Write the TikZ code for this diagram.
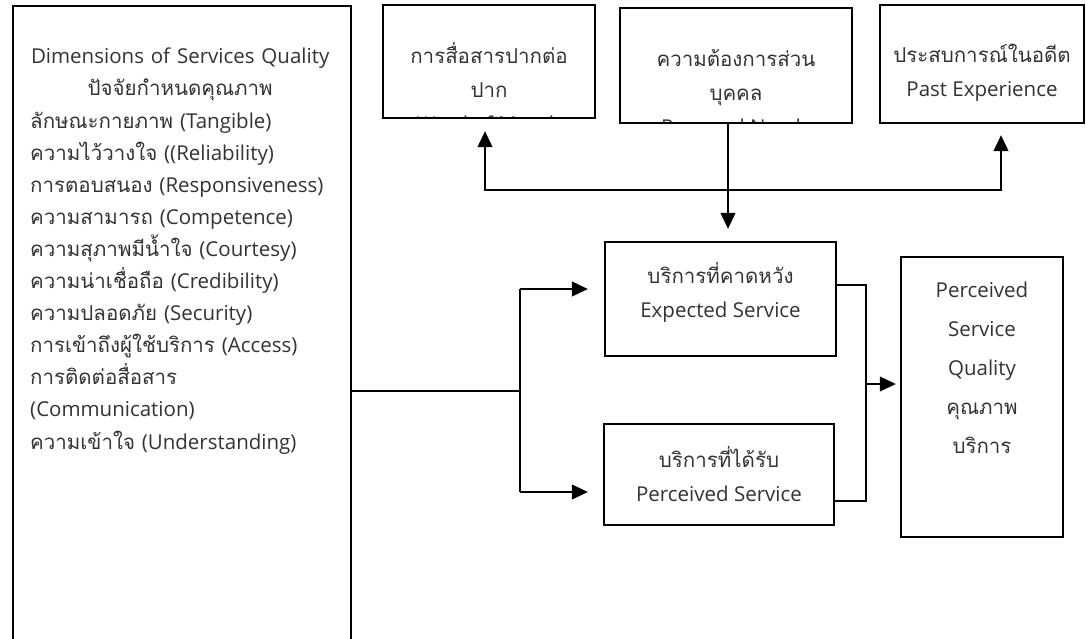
\documentclass[tikz,border=0pt]{standalone}
\usepackage{fontspec}
\setmainfont{Open Sans}
\newfontfamily\thaifont[Script=Thai]{Loma}
\newcommand{\thai}[1]{{\thaifont #1}}
\usetikzlibrary{arrows.meta}

\begin{document}
\begin{tikzpicture}[x=1pt, y=-1pt,
  box/.style={draw, line width=2.4pt, inner sep=0pt},
  txt/.style={align=center, inner sep=0pt, font=\fontsize{20.5}{34}\selectfont, text=black!80},
  link/.style={line width=1.2pt},
  arr/.style={link, -{Triangle[length=16pt, width=15pt]}}]
  \clip (0,0) rectangle (1086,638);

  % Left box (runs past the bottom of the page)
  \node[box, anchor=north west, minimum width=338pt, minimum height=660pt] (dims) at (12,5) {};
  \node[txt, anchor=north west, align=left, text width=312pt, font=\fontsize{20.5}{32.1}\selectfont] (dimstext) at (30,48)
    {\makebox[300pt]{Dimensions of Services Quality}\\
     \makebox[300pt]{\thai{ปัจจัยกำหนดคุณภาพ}}\\
     \thai{ลักษณะกายภาพ} (Tangible)\\
     \thai{ความไว้วางใจ} ((Reliability)\\
     \thai{การตอบสนอง} (Responsiveness)\\
     \thai{ความสามารถ} (Competence)\\
     \thai{ความสุภาพมีน้ำใจ} (Courtesy)\\
     \thai{ความน่าเชื่อถือ} (Credibility)\\
     \thai{ความปลอดภัย} (Security)\\
     \thai{การเข้าถึงผู้ใช้บริการ} (Access)\\
     \thai{การติดต่อสื่อสาร}\\
     (Communication)\\
     \thai{ความเข้าใจ} (Understanding)};

  % Top boxes (text cut off by the box)
  \node[box, minimum width=212pt, minimum height=113pt,
    path picture={\node[txt] (womtext) at ([yshift=-26pt]path picture bounding box.center)
      {\thai{การสื่อสารปากต่อ}\\\thai{ปาก}\\Word of Mouth};}] (wom) at (489,61.5) {};
  \node[box, minimum width=232pt, minimum height=115pt,
    path picture={\node[txt] (needstext) at ([yshift=-26.5pt]path picture bounding box.center)
      {\thai{ความต้องการส่วน}\\\thai{บุคคล}\\Personal Needs};}] (needs) at (736,65.5) {};
  \node[box, minimum width=204pt, minimum height=118pt] (past) at (982,64) {};
  \node[txt] (pasttext) at (982,73) {\thai{ประสบการณ์ในอดีต}\\Past Experience};

  % Middle boxes
  \node[box, minimum width=231pt, minimum height=114pt] (expected) at (720.5,299) {};
  \node[txt] (expectedtext) at (720.5,292) {\thai{บริการที่คาดหวัง}\\Expected Service};
  \node[box, minimum width=230pt, minimum height=101pt] (perceived) at (719,474.5) {};
  \node[txt] (perceivedtext) at (719,474) {\thai{บริการที่ได้รับ}\\Perceived Service};

  % Right box
  \node[box, minimum width=162pt, minimum height=280pt] (psq) at (982,397) {};
  \node[txt, font=\fontsize{20.5}{39}\selectfont] (psqtext) at (982,368)
    {Perceived\\Service\\Quality\\\thai{คุณภาพ}\\\thai{บริการ}};

  % Links from the top boxes
  \coordinate (busL) at (485,190);
  \coordinate (busR) at (1001,190);
  \coordinate (drop) at (728,190);
  \draw[link, {Triangle[length=16pt, width=15pt]}-{Triangle[length=16pt, width=15pt]},
    shorten <=12pt, shorten >=11pt] (busL |- wom.south) -- (busL) -- (busR) -- (busR |- past.south);
  \draw[arr, shorten >=12pt] (drop |- needs.south) -- (drop |- expected.north);

  % Fork from the left box
  \coordinate (fork) at (520,391);
  \coordinate (forkTop) at (520,289);
  \coordinate (forkBot) at (520,492);
  \draw[link] (dims.east |- fork) -- (fork);
  \draw[link] (forkTop) -- (forkBot);
  \draw[arr, shorten >=16pt] (forkTop) -- (forkTop -| expected.west);
  \draw[arr, shorten >=15pt] (forkBot) -- (forkBot -| perceived.west);

  % Join into the right box
  \coordinate (joinTop) at (866,285);
  \coordinate (joinBot) at (866,501);
  \coordinate (joinMid) at (866,384);
  \draw[link] (joinTop -| expected.east) -- (joinTop) -- (joinBot) -- (joinBot -| perceived.east);
  \draw[arr, shorten >=4pt] (joinMid) -- (joinMid -| psq.west);
\end{tikzpicture}
\end{document}
